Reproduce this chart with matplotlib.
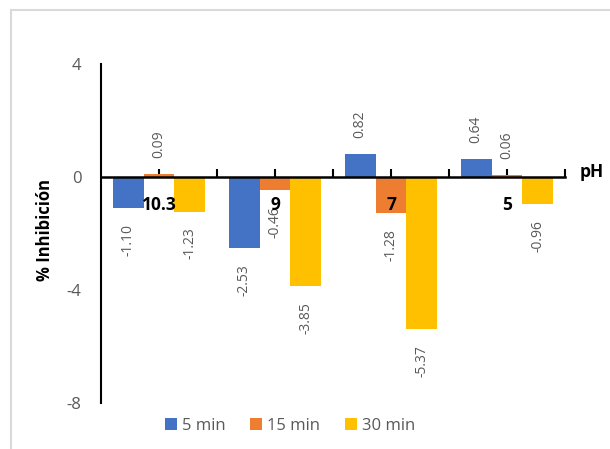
import matplotlib
matplotlib.use("Agg")
import matplotlib.pyplot as plt
import numpy as np
from matplotlib.patches import Rectangle

categories = ["10.3", "9", "7", "5"]
series_names = ["5 min", "15 min", "30 min"]
v5 = [-1.10, -2.53, 0.82, 0.64]
v15 = [0.09, -0.46, -1.28, 0.06]
v30 = [-1.23, -3.85, -5.37, -0.96]
colors = ["#4472C4", "#ED7D31", "#FFC000"]

plt.rcParams['font.family'] = ['Open Sans', 'DejaVu Sans']
plt.rcParams['axes.unicode_minus'] = False

fig = plt.figure(figsize=(6.10, 4.49), dpi=100)
# chart frame
fig.patches.append(Rectangle((11/610, -0.1), 1.2, 1 - 10/449 + 0.1, transform=fig.transFigure,
                             fill=False, edgecolor="#D9D9D9", linewidth=1.5))
ax = fig.add_axes([101/610, 1 - 403/449, (565 - 101)/610, (403 - 64)/449])

x = np.arange(len(categories))
w = 0.267
grey = "#595959"
for i, (vals, name, c) in enumerate(zip([v5, v15, v30], series_names, colors)):
    xs = x + (i - 1) * w
    ax.bar(xs, vals, width=w, color=c, label=name, zorder=2)
    for xi, v in zip(xs, vals):
        off = 11.5 if v >= 0 else -11.5
        ax.annotate(f"{v:.2f}", (xi, v), xytext=(0, off), textcoords="offset points",
                    rotation=90, ha="center", va="bottom" if v >= 0 else "top",
                    fontsize=10, color=grey)

ax.set_xlim(-0.5, 3.5)
ax.set_ylim(-8, 4)
ax.set_yticks([4, 0, -4, -8])
ax.tick_params(axis="y", length=0, labelsize=12, labelcolor=grey, pad=14)
for s in ["top", "right"]:
    ax.spines[s].set_visible(False)
ax.spines["left"].set_linewidth(1.5)
ax.spines["bottom"].set_position(("data", 0))
ax.spines["bottom"].set_linewidth(1.8)
ax.spines["bottom"].set_zorder(3)
ax.set_xticks(np.arange(-0.5, 3.51, 0.5)[1:])
ax.set_xticklabels([])
ax.tick_params(axis="x", direction="in", length=6, width=1.5, color="black")

for xi, lab in zip(x, categories):
    ax.text(xi, -1.0, lab, ha="center", va="center", fontsize=12.5, fontweight="bold",
            color="black", zorder=5)

fig.text(592/610, 1 - 172/449, "pH", ha="center", va="center", fontsize=12.5,
         fontweight="bold", color="black")
fig.text(45/610, 1 - 230/449, "% Inhibición", ha="center", va="center", rotation=90,
         fontsize=12, fontweight="bold", color="black")

leg = fig.legend(loc="center", bbox_to_anchor=(290/610, 1 - 426/449), ncol=3, frameon=False,
                 fontsize=12, handlelength=0.7, handleheight=0.7, handletextpad=0.3,
                 columnspacing=1.5, labelcolor=grey)

fig.savefig("out.png", dpi=100)
